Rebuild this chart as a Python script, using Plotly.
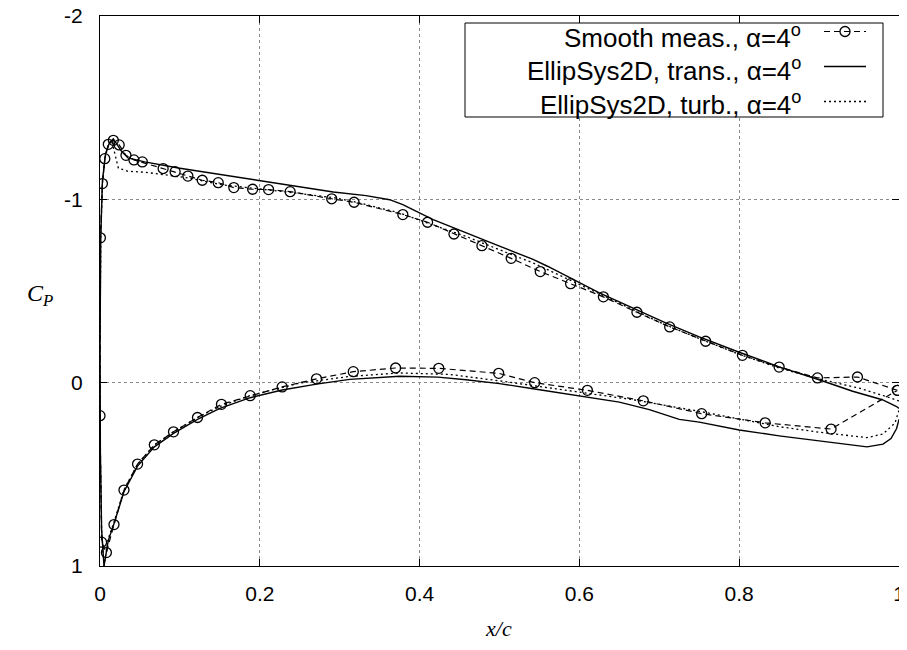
import plotly.graph_objects as go

# ---------------- data ----------------
# Measurements, upper (suction) side: trailing edge -> leading edge
x_meas_upper = [0.998, 0.948, 0.898, 0.850, 0.804, 0.758, 0.713, 0.672, 0.630, 0.589,
                0.551, 0.5146, 0.478, 0.443, 0.410, 0.379, 0.318, 0.290, 0.238, 0.211,
                0.191, 0.1675, 0.148, 0.128, 0.110, 0.094, 0.079, 0.053, 0.0425, 0.0325,
                0.024, 0.0167, 0.0104, 0.006, 0.003, 0.0005]
cp_meas_upper = [0.042, -0.031, -0.026, -0.085, -0.149, -0.226, -0.304, -0.384, -0.468, -0.540,
                 -0.606, -0.678, -0.747, -0.811, -0.875, -0.917, -0.984, -1.003, -1.042, -1.053,
                 -1.055, -1.064, -1.091, -1.104, -1.127, -1.151, -1.168, -1.204, -1.215, -1.240,
                 -1.297, -1.322, -1.300, -1.222, -1.086, -0.790]
# Measurements, lower (pressure) side: leading edge -> trailing edge
x_meas_lower = [0.0, 0.002, 0.008, 0.0175, 0.030, 0.047, 0.068, 0.092, 0.122, 0.152,
                0.188, 0.228, 0.271, 0.317, 0.370, 0.424, 0.499, 0.544, 0.610, 0.680,
                0.753, 0.8325, 0.915]
cp_meas_lower = [0.180, 0.870, 0.927, 0.774, 0.586, 0.444, 0.339, 0.268, 0.190, 0.118,
                 0.071, 0.023, -0.021, -0.060, -0.080, -0.078, -0.051, 0.000, 0.042, 0.099,
                 0.169, 0.219, 0.253]

# EllipSys2D transitional, upper side: TE -> LE -> stagnation
x_trans_upper = [1.0, 0.997, 0.979, 0.942, 0.900, 0.850, 0.800, 0.750, 0.708, 0.667,
                 0.625, 0.560, 0.542, 0.500, 0.458, 0.417, 0.396, 0.379, 0.3625, 0.333,
                 0.292, 0.250, 0.202, 0.160, 0.098, 0.056, 0.035, 0.027, 0.0167, 0.012,
                 0.007, 0.003, 0.001, 0.0, 0.0005, 0.002, 0.005]
cp_trans_upper = [0.140, 0.130, 0.093, 0.047, -0.016, -0.086, -0.166, -0.250, -0.326, -0.408,
                  -0.490, -0.635, -0.672, -0.745, -0.817, -0.889, -0.934, -0.971, -0.998, -1.020,
                  -1.040, -1.068, -1.098, -1.126, -1.171, -1.204, -1.226, -1.262, -1.330, -1.310,
                  -1.250, -1.100, -0.800, -0.200, 0.400, 0.800, 1.000]
# EllipSys2D transitional, lower side: stagnation -> TE
x_trans_lower = [0.005, 0.0104, 0.0175, 0.030, 0.047, 0.068, 0.092, 0.122, 0.150, 0.188,
                 0.228, 0.271, 0.3125, 0.375, 0.423, 0.458, 0.500, 0.542, 0.604, 0.650,
                 0.6875, 0.725, 0.750, 0.800, 0.850, 0.900, 0.940, 0.960, 0.980, 0.990,
                 0.997, 1.0]
cp_trans_lower = [1.000, 0.860, 0.770, 0.595, 0.455, 0.350, 0.277, 0.200, 0.140, 0.082,
                  0.040, 0.008, -0.018, -0.035, -0.030, -0.016, 0.005, 0.033, 0.075, 0.106,
                  0.147, 0.200, 0.215, 0.258, 0.290, 0.318, 0.342, 0.350, 0.335, 0.305,
                  0.250, 0.200]

# EllipSys2D fully turbulent, upper side: TE -> LE -> stagnation
x_turb_upper = [1.0, 0.980, 0.950, 0.900, 0.850, 0.800, 0.750, 0.700, 0.625, 0.542,
                0.500, 0.458, 0.410, 0.375, 0.320, 0.294, 0.244, 0.202, 0.152, 0.110,
                0.077, 0.056, 0.035, 0.023, 0.0146, 0.010, 0.006, 0.003, 0.001, 0.0,
                0.0005, 0.002, 0.005]
cp_turb_upper = [0.100, 0.070, 0.030, -0.020, -0.080, -0.155, -0.240, -0.330, -0.485, -0.653,
                 -0.725, -0.798, -0.870, -0.926, -0.985, -1.008, -1.035, -1.055, -1.080, -1.117,
                 -1.135, -1.148, -1.153, -1.170, -1.320, -1.290, -1.220, -1.080, -0.800, -0.200,
                 0.400, 0.800, 1.000]
# EllipSys2D fully turbulent, lower side: stagnation -> TE
x_turb_lower = [0.005, 0.0104, 0.0175, 0.030, 0.047, 0.068, 0.092, 0.122, 0.150, 0.188,
                0.250, 0.3125, 0.375, 0.4375, 0.500, 0.542, 0.604, 0.667, 0.750, 0.800,
                0.850, 0.900, 0.940, 0.960, 0.980, 0.995, 1.0]
cp_turb_lower = [1.000, 0.850, 0.760, 0.585, 0.445, 0.340, 0.268, 0.190, 0.130, 0.070,
                 0.002, -0.034, -0.053, -0.045, -0.010, 0.016, 0.056, 0.093, 0.156, 0.200,
                 0.240, 0.270, 0.290, 0.300, 0.280, 0.220, 0.150]

x_ticks = [0, 0.2, 0.4, 0.6, 0.8, 1.0]
x_tick_labels = ["0", "0.2", "0.4", "0.6", "0.8", "1"]
y_ticks = [-2, -1, 0, 1]
y_tick_labels = ["-2", "-1", "0", "1"]

legend_labels = ["Smooth meas., \u03b1=4<sup>o</sup>",
                 "EllipSys2D, trans., \u03b1=4<sup>o</sup>",
                 "EllipSys2D, turb., \u03b1=4<sup>o</sup>"]

# ---------------- figure ----------------
# closed loops: measurement loop ends back at its trailing-edge point
x_meas = x_meas_upper + x_meas_lower + x_meas_upper[:1]
cp_meas = cp_meas_upper + cp_meas_lower + cp_meas_upper[:1]
x_trans = x_trans_upper + x_trans_lower
cp_trans = cp_trans_upper + cp_trans_lower
x_turb = x_turb_upper + x_turb_lower
cp_turb = cp_turb_upper + cp_turb_lower

fig = go.Figure()
fig.add_trace(go.Scatter(
    x=x_meas, y=cp_meas, mode="lines+markers", name=" ",
    legendgroup="a",
    line=dict(color="black", width=1.2, dash="6px,4px"),
    marker=dict(symbol="circle-open", size=10, color="black", line=dict(width=1.3)),
))
fig.add_trace(go.Scatter(
    x=x_trans, y=cp_trans, mode="lines", name=" ", legendgroup="b",
    line=dict(color="black", width=1.4),
))
fig.add_trace(go.Scatter(
    x=x_turb, y=cp_turb, mode="lines", name=" ", legendgroup="c",
    line=dict(color="black", width=1.3, dash="2px,3px"),
))

# the page body adds an 8px offset; figure is sized so the plot area
# lands at window pixels x 100..899, y 16..566
OFF = 8
W, H = 899, 642
L, R, T, B = 92, 8, 8, 84
pw, ph = W - L - R, H - T - B


def px_x(p):  # window pixel -> paper x
    return (p - OFF - L) / pw


def px_y(p):  # window pixel -> paper y
    return (H - B - (p - OFF)) / ph


tick_font = dict(family="Liberation Sans, Arial", size=21, color="black")

fig.update_layout(
    width=W, height=H,
    margin=dict(l=L, r=R, t=T, b=B, autoexpand=False),
    paper_bgcolor="white", plot_bgcolor="white",
    showlegend=True,
    legend=dict(
        x=px_x(819), y=px_y(12), xanchor="left", yanchor="top",
        bgcolor="rgba(0,0,0,0)", borderwidth=0,
        font=dict(size=20, family="Liberation Sans"),
        itemwidth=42, traceorder="grouped", tracegroupgap=6,
    ),
    xaxis=dict(
        range=[0, 1], tickvals=x_ticks, ticktext=x_tick_labels,
        showline=True, linecolor="black", linewidth=1, mirror="ticks",
        ticks="inside", ticklen=7, tickcolor="black",
        showgrid=True, gridcolor="#8a8a8a", griddash="dot", gridwidth=1,
        zeroline=False, tickfont=tick_font, ticklabelstandoff=9,
        ticklabeloverflow="allow", automargin=False,
    ),
    yaxis=dict(
        range=[1, -2], tickvals=y_ticks, ticktext=y_tick_labels,
        showline=True, linecolor="black", linewidth=1, mirror="ticks",
        ticks="inside", ticklen=7, tickcolor="black",
        showgrid=True, gridcolor="#8a8a8a", griddash="dot", gridwidth=1,
        zeroline=False, tickfont=tick_font, ticklabelstandoff=12,
        ticklabeloverflow="allow", automargin=False,
    ),
)

# axis titles
fig.add_annotation(text="<i>x/c</i>", x=px_x(498), y=px_y(628), xref="paper", yref="paper",
                   showarrow=False, xanchor="center", yanchor="middle",
                   font=dict(family="Liberation Serif, Times New Roman", size=22, color="black"))
fig.add_annotation(text="<i>C<sub>P</sub></i>", x=px_x(40), y=px_y(295), xref="paper", yref="paper",
                   showarrow=False, xanchor="center", yanchor="middle",
                   font=dict(family="Liberation Serif, Times New Roman", size=24, color="black"))

# legend box and labels
fig.add_shape(type="rect", xref="paper", yref="paper",
              x0=px_x(465), x1=px_x(883), y0=px_y(117), y1=px_y(23),
              line=dict(color="black", width=1), fillcolor="white", layer="above")
row_y = [36, 70, 103]
for lab, ry in zip(legend_labels, row_y):
    fig.add_annotation(text=lab, x=px_x(803), y=px_y(ry), xref="paper", yref="paper",
                       showarrow=False, xanchor="right", yanchor="middle",
                       font=dict(family="Liberation Sans, Arial", size=26, color="black"))

fig.write_html("out.html")
